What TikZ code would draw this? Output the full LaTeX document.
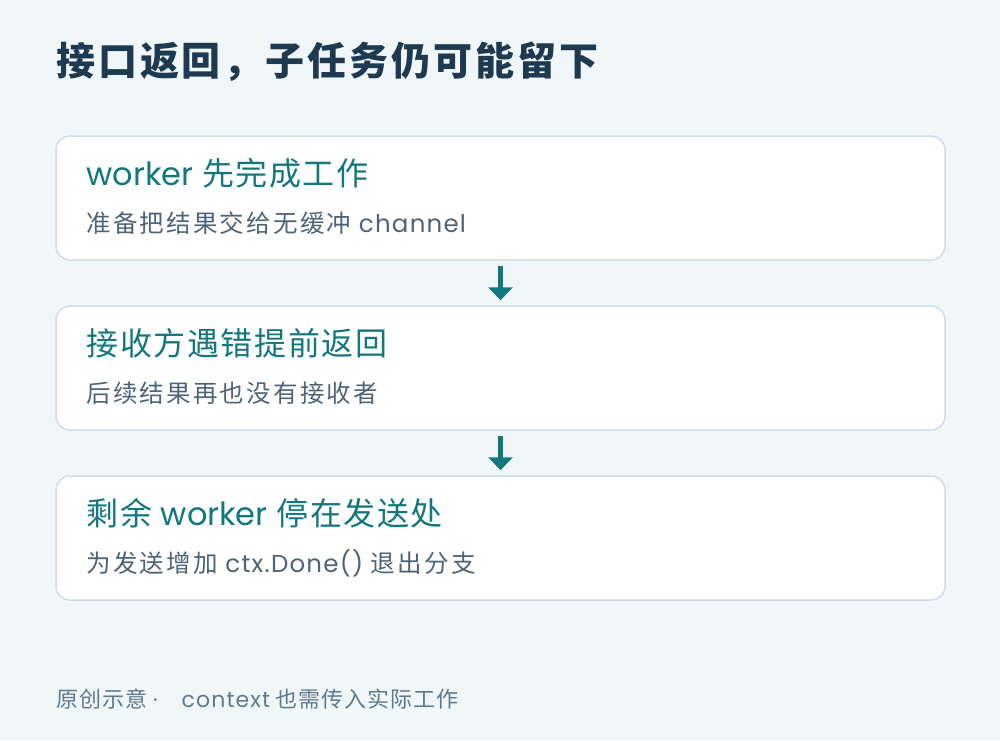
\documentclass[tikz,border=0pt]{standalone}
\usepackage{fontspec}
\setmainfont{Noto Sans CJK SC}
\newfontfamily\lat{Poppins}
\newfontfamily\latsp[LetterSpace=5]{Poppins}
\usetikzlibrary{positioning}
\usetikzlibrary{arrows.meta}
\definecolor{bgc}{HTML}{F1F6F9}
\definecolor{cardline}{HTML}{D0DEE8}
\definecolor{titlec}{HTML}{1E3A50}
\definecolor{tealc}{HTML}{13787E}
\definecolor{subc}{HTML}{4D6478}
\definecolor{footc}{HTML}{5E7A8E}
\tikzstyle{card}=[draw=cardline,fill=white,rounded corners=14pt,line width=1.5pt,minimum width=889pt,minimum height=124pt,inner sep=0pt]
\tikzstyle{head}=[anchor=west,text=tealc,font=\fontsize{32}{38}\selectfont\addfontfeatures{LetterSpace=5},inner sep=0pt]
\tikzstyle{sub}=[anchor=west,text=subc,font=\fontsize{24.5}{30}\selectfont\addfontfeatures{LetterSpace=9},inner sep=0pt]
\tikzstyle{flow}=[draw=tealc,line width=5pt,-{Triangle[width=24pt,length=13pt]},shorten <=5pt,shorten >=5pt]

\begin{document}
\begin{tikzpicture}[x=1pt,y=1pt]

    \fill[bgc] (0,0) rectangle (1000,-740);
    \useasboundingbox (0,0) rectangle (1000,-740);

    \node[anchor=west,text=titlec,font=\fontsize{39}{45}\selectfont\bfseries\addfontfeatures{LetterSpace=7.5},inner sep=0pt] (title) at (56,-62) {接口返回，子任务仍可能留下};

    \foreach \pos/\name in {{(500.5,-198)/card1}, {(500.5,-368)/card2}, {(500.5,-538)/card3}}
        \node[card] (\name) at \pos {};

    \foreach \name/\hd/\sb in {card1/{{\lat worker} 先完成工作}/{准备把结果交给无缓冲 {\latsp channel}},
                               card2/{接收方遇错提前返回}/{后续结果再也没有接收者},
                               card3/{剩余 {\lat worker} 停在发送处}/{为发送增加 {\latsp ctx.Done()} 退出分支}}
    {
        \node[head, right=31pt of \name.west, yshift=25pt] (\name-hd) {\hd};
        \node[sub, right=31pt of \name.west, yshift=-25pt] (\name-sb) {\sb};
    }

    \foreach \source/\dest in {card1/card2, card2/card3}
        \draw[flow] (\source) -- (\dest);

    \node[anchor=west,text=footc,font=\fontsize{22}{27}\selectfont\addfontfeatures{LetterSpace=4.5},inner sep=0pt] (foot) at (56,-699) {原创示意 {\lat ·}\hspace{24pt}{\latsp context} 也需传入实际工作};

\end{tikzpicture}
\end{document}
